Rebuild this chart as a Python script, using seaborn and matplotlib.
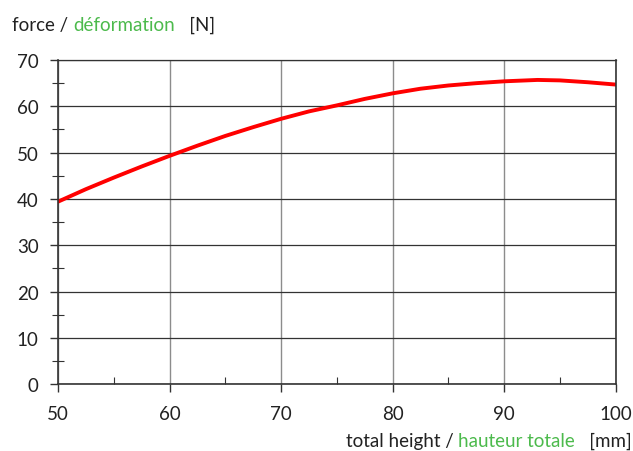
import matplotlib
matplotlib.use("Agg")
import matplotlib.pyplot as plt
import seaborn as sns
import pandas as pd
from matplotlib.ticker import MultipleLocator

sns.set_theme(style="white")
plt.rcParams["font.family"] = ["Lato", "DejaVu Sans"]

# values
height_mm = [50, 52.5, 55, 57.5, 60, 62.5, 65, 67.5, 70, 72.5, 75, 77.5, 80,
             82.5, 85, 87.5, 90, 93, 95, 97.5, 100]
force_n = [39.4, 42.1, 44.6, 47.0, 49.3, 51.5, 53.6, 55.5, 57.3, 58.9, 60.2, 61.6, 62.8,
           63.8, 64.5, 65.0, 65.4, 65.7, 65.6, 65.2, 64.7]

ylabel_parts = [("force / ", "#222222"), ("déformation", "#4cba4c"), ("   [N]", "#222222")]
xlabel_parts = [("total height / ", "#222222"), ("hauteur totale", "#4cba4c"), ("   [mm]", "#222222")]

df = pd.DataFrame({"height": height_mm, "force": force_n})

fig = plt.figure(figsize=(6.33, 4.52), dpi=100)
ax = fig.add_axes([0.0916, 0.148, 0.881, 0.717])

sns.lineplot(x="height", y="force", data=df, color="#ff0000", linewidth=2.8, ax=ax)

ax.set_xlim(50, 100)
ax.set_ylim(0, 70)
ax.xaxis.set_major_locator(MultipleLocator(10))
ax.xaxis.set_minor_locator(MultipleLocator(5))
ax.yaxis.set_major_locator(MultipleLocator(10))
ax.yaxis.set_minor_locator(MultipleLocator(5))

ax.grid(axis="y", which="major", color="#333333", linewidth=0.9)
ax.grid(axis="x", which="major", color="#8c8c8c", linewidth=1.0)
ax.set_axisbelow(True)

for side in ["left", "bottom", "right"]:
    ax.spines[side].set_color("#333333")
    ax.spines[side].set_linewidth(1.2)
ax.spines["top"].set_color("#333333")
ax.spines["top"].set_linewidth(0.9)

ax.tick_params(which="both", bottom=True, left=True, top=False, right=False)
ax.tick_params(axis="both", which="major", direction="out", length=6, width=1,
               color="#333333", labelsize=13.5, labelcolor="#222222")
ax.tick_params(axis="y", which="major", pad=8)
ax.tick_params(axis="x", which="major", pad=9)
ax.tick_params(axis="y", which="minor", direction="inout", length=8, width=0.8, color="#333333")
ax.tick_params(axis="x", which="minor", direction="in", length=5, width=0.8, color="#333333")
ax.set_xlabel("")
ax.set_ylabel("")

# multi-coloured axis titles
fig.canvas.draw()
renderer = fig.canvas.get_renderer()

x = 12
for txt, col in ylabel_parts:
    t = fig.text(x / 633, 1 - 31 / 452, txt, color=col, fontsize=13.5,
                 ha="left", va="baseline")
    x = t.get_window_extent(renderer).x1

texts = []
total = 0
for txt, col in xlabel_parts:
    t = fig.text(0, 5 / 452, txt, color=col, fontsize=13.5, ha="left", va="baseline")
    texts.append(t)
    total += t.get_window_extent(renderer).width
x = 632 - total
for t in texts:
    t.set_x(x / 633)
    x += t.get_window_extent(renderer).width

fig.savefig("out.png", dpi=100)
